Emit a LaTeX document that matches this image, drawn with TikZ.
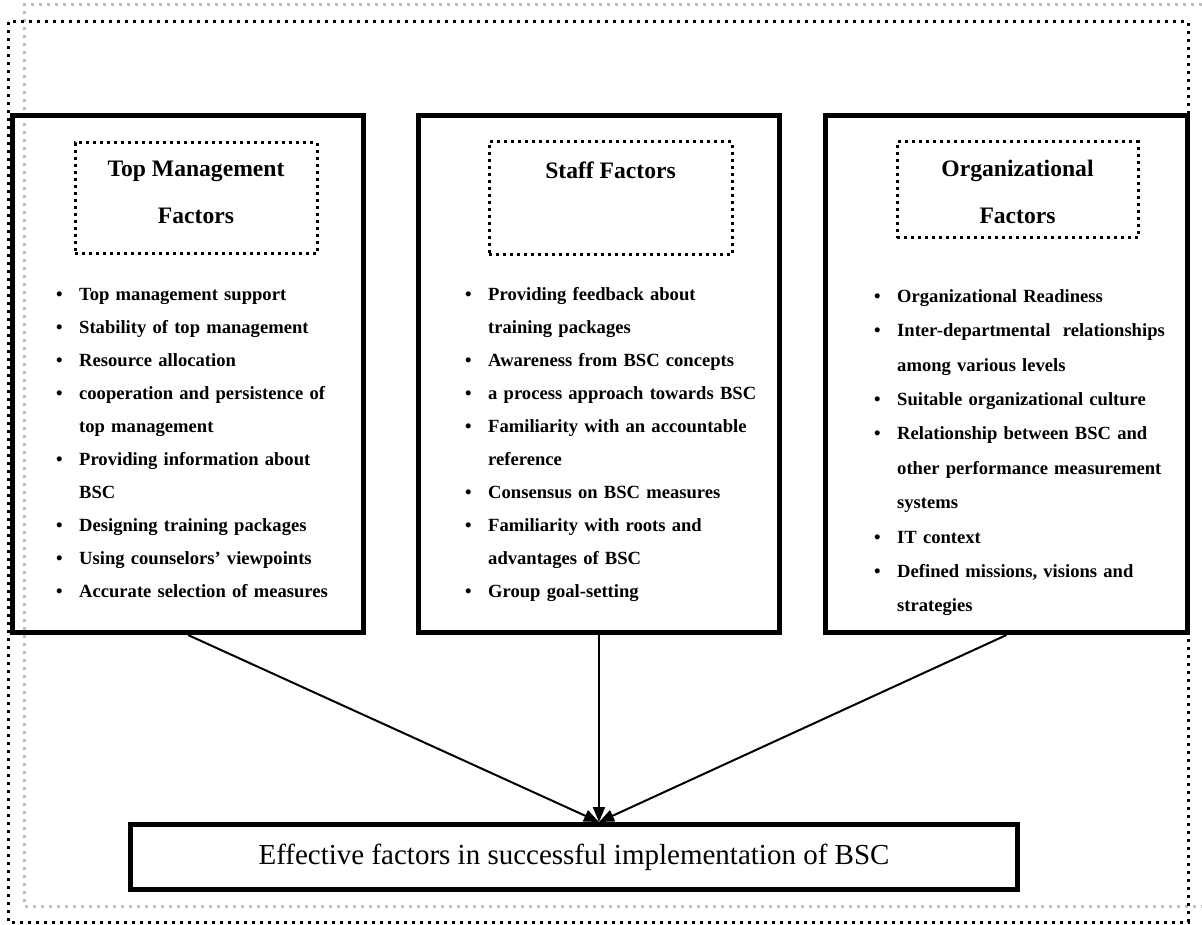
\documentclass[tikz,border=0pt]{standalone}
\usepackage{fontspec}
\setmainfont{Liberation Serif}
\usepackage{tikz}
\usetikzlibrary{arrows.meta}

\newcommand{\factoritem}[1]{\hangindent=23pt\hangafter=1\noindent\strut\makebox[23pt][l]{\textbullet}#1\par}

\begin{document}
\begin{tikzpicture}[
    x=1pt, y=-1pt,
    factorbox/.style={draw, line width=5pt, inner sep=0pt},
    headbox/.style={draw, line width=3pt, dash pattern=on 3pt off 4pt, inner sep=0pt},
    headtext/.style={font=\fontsize{23.6}{47}\selectfont\bfseries, align=center},
    factorlist/.style={anchor=north west, inner sep=0pt, text width=300pt, align=left,
        font=\fontsize{18.6}{33}\selectfont\bfseries},
    goalbox/.style={draw, line width=5pt, font=\fontsize{29}{35}\selectfont},
    flow/.style={line width=2pt, -{Triangle[length=15pt,width=12pt]}}
]
                \useasboundingbox (0,0) rectangle (1202,925);

                \draw[
                    line width=3pt,
                    black!25,
                    dash pattern=on 3pt off 5pt
                ] (1202,5) -- (24,5) -- (24,906) -- (1202,906);

                \draw[
                    line width=3pt,
                    dash pattern=on 3pt off 5pt
                ] (8,22) rectangle (1188,922);

                \node[factorbox, minimum width=351pt, minimum height=517pt] (tmbox) at (188,374) {};
                \node[factorbox, minimum width=361pt, minimum height=517pt] (stbox) at (599,374) {};
                \node[factorbox, minimum width=362pt, minimum height=517pt] (orgbox) at (1006.5,374) {};

                \node[
                    headbox,
                    minimum width=242pt,
                    minimum height=111pt,
                    label={[headtext, yshift=6pt]center:{Top Management\\Factors}}
                ] (tmhead) at (196,198.5) {};

                \node[
                    headbox,
                    minimum width=243pt,
                    minimum height=113pt,
                    label={[headtext, yshift=5pt]center:{Staff Factors\\\mbox{}}}
                ] (sthead) at (610.5,198.5) {};

                \node[
                    headbox,
                    minimum width=241pt,
                    minimum height=96pt,
                    label={[headtext, yshift=-1.5pt]center:{Organizational\\Factors}}
                ] (orghead) at (1017.5,190) {};

                \node[factorlist] (tmlist) at (56,277) {
                    \factoritem{Top management support}
                    \factoritem{Stability of top management}
                    \factoritem{Resource allocation}
                    \factoritem{cooperation and persistence of\newline top management}
                    \factoritem{Providing information about\newline BSC}
                    \factoritem{Designing training packages}
                    \factoritem{Using counselors’ viewpoints}
                    \factoritem{Accurate selection of measures}
                };

                \node[factorlist] (stlist) at (465,277) {
                    \factoritem{Providing feedback about\newline training packages}
                    \factoritem{Awareness from BSC concepts}
                    \factoritem{a process approach towards BSC}
                    \factoritem{Familiarity with an accountable\newline reference}
                    \factoritem{Consensus on BSC measures}
                    \factoritem{Familiarity with roots and\newline advantages of BSC}
                    \factoritem{Group goal-setting}
                };

                \node[factorlist, font=\fontsize{18.6}{34.4}\selectfont\bfseries] (orglist) at (874,278) {
                    \factoritem{Organizational Readiness}
                    \factoritem{Inter-departmental\ \ relationships\newline among various levels}
                    \factoritem{Suitable organizational culture}
                    \factoritem{Relationship between BSC and\newline other performance measurement\newline systems}
                    \factoritem{IT context}
                    \factoritem{Defined missions, visions and\newline strategies}
                };

                \node[goalbox, minimum width=887pt, minimum height=65pt] (goal) at (574,857) {Effective factors in successful implementation of BSC};

                \draw[flow] (tmbox.south) -- (goal.north -| stbox.south);
                \draw[flow] (stbox.south) -- (goal.north -| stbox.south);
                \draw[flow] (orgbox.south) -- (goal.north -| stbox.south);

            \end{tikzpicture}
\end{document}
